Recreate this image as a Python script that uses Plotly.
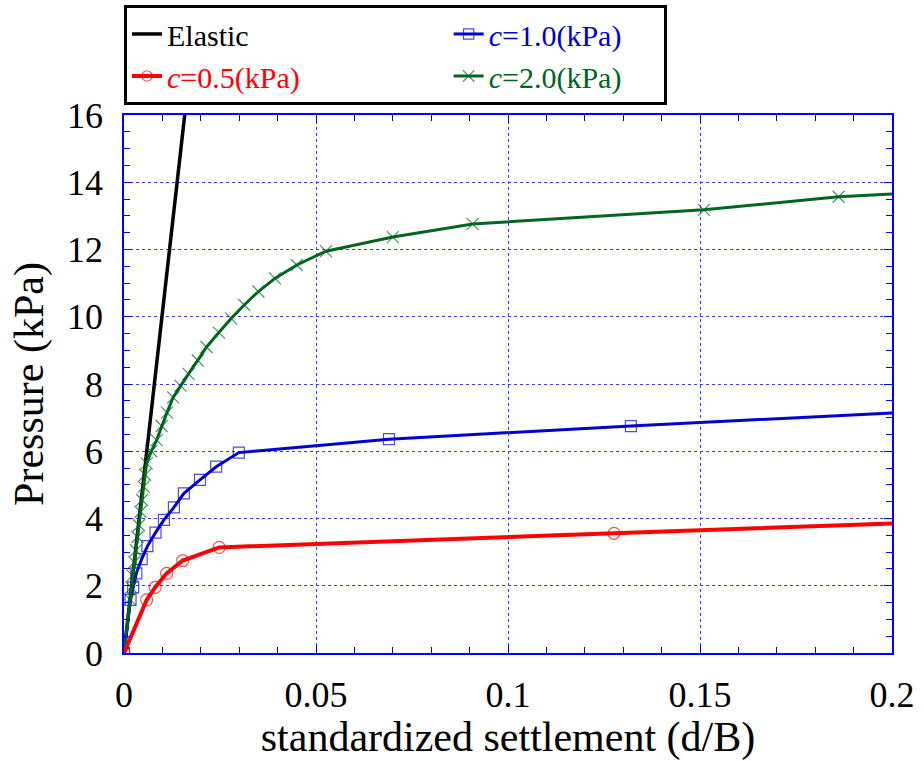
import plotly.graph_objects as go

# ---- data ----
elastic_x = [0.0, 0.0168]
elastic_y = [0.0, 17.0]

c05_x = [0.0, 0.0059, 0.0081, 0.0111, 0.0153, 0.0248, 0.1276, 0.2]
c05_y = [0.0, 1.58, 1.95, 2.37, 2.75, 3.14, 3.56, 3.85]

c10_x = [0.0, 0.0017, 0.0024, 0.0032, 0.0046, 0.0061, 0.0082, 0.0104, 0.0130, 0.0156,
         0.0198, 0.0240, 0.0299, 0.0690, 0.1320, 0.2]
c10_y = [0.0, 1.58, 1.95, 2.37, 2.79, 3.18, 3.58, 3.96, 4.33, 4.75,
         5.15, 5.54, 5.96, 6.36, 6.75, 7.14]

c20_x = [0.0, 0.0015, 0.0019, 0.0022, 0.0027, 0.0031, 0.0035, 0.0039, 0.0043, 0.0047,
         0.0051, 0.0055, 0.0059, 0.0071, 0.0085, 0.0098, 0.0112, 0.0128, 0.0147, 0.0168,
         0.0192, 0.0215, 0.0247, 0.0279, 0.0313, 0.0350, 0.0393, 0.0450, 0.0526, 0.0700,
         0.0908, 0.1510, 0.1861, 0.2]
c20_y = [0.0, 1.6, 1.95, 2.3, 2.7, 3.05, 3.45, 3.8, 4.2, 4.55,
         4.95, 5.3, 5.64, 6.0, 6.33, 6.75, 7.15, 7.6, 7.95, 8.3,
         8.7, 9.1, 9.53, 9.95, 10.35, 10.75, 11.14, 11.54, 11.95, 12.37,
         12.76, 13.18, 13.57, 13.65]

x_ticks = [0, 0.05, 0.1, 0.15, 0.2]
x_tick_text = ["0", "0.05", "0.1", "0.15", "0.2"]
y_ticks = [0, 2, 4, 6, 8, 10, 12, 14, 16]

RED = "#ff0000"
BLUE = "#0000d0"
GREEN = "#00661e"
GRID = "#3a3aff"
FONT = "Liberation Serif"
NB = "\u00a0"


def sizes(n, s):
    # marker on every measured point, none on the end-of-line point
    return [s] * (n - 1) + [0]


def label(text, color, pad):
    return "<span style='color:%s'>%s</span>%s" % (color, text, NB * pad)


fig = go.Figure()

fig.add_trace(go.Scatter(
    x=elastic_x, y=elastic_y, mode="lines", name=label("Elastic", "black", 26),
    line=dict(color="black", width=3.5), legendrank=1))

fig.add_trace(go.Scatter(
    x=c10_x, y=c10_y, mode="lines+markers",
    name=label("<i>c</i>=1.0(kPa)", BLUE, 5),
    line=dict(color=BLUE, width=3),
    marker=dict(symbol="square-open", size=sizes(len(c10_x), 11),
                color=BLUE, line=dict(width=1.2, color=BLUE)),
    legendrank=2))

fig.add_trace(go.Scatter(
    x=c20_x, y=c20_y, mode="lines+markers",
    name=label("<i>c</i>=2.0(kPa)", GREEN, 5),
    line=dict(color=GREEN, width=3),
    marker=dict(symbol="x-thin-open", size=sizes(len(c20_x), 12),
                color=GREEN, line=dict(width=1.2, color=GREEN)),
    legendrank=4))

fig.add_trace(go.Scatter(
    x=c05_x, y=c05_y, mode="lines+markers",
    name=label("<i>c</i>=0.5(kPa)", RED, 18),
    line=dict(color=RED, width=4),
    marker=dict(symbol="circle-open", size=sizes(len(c05_x), 12),
                color=RED, line=dict(width=1.2, color=RED)),
    legendrank=3))

axis_common = dict(
    showline=True, linecolor="#0000ff", linewidth=1.5, mirror="ticks",
    ticks="inside", ticklen=8, tickcolor="#0000ff", tickwidth=1.2,
    showgrid=True, gridcolor=GRID, gridwidth=1, griddash="3px,3px",
    zeroline=False,
    tickfont=dict(family=FONT, size=36, color="black"),
)

fig.update_xaxes(
    **axis_common,
    range=[0, 0.2], tickvals=x_ticks, ticktext=x_tick_text,
    minor=dict(dtick=0.01, ticks="inside", ticklen=6, tickcolor="#0000ff", tickwidth=1, showgrid=False),
    ticklabelstandoff=9,
    title=dict(text="standardized settlement (d/B)", font=dict(family=FONT, size=42, color="black"),
               standoff=2),
)
fig.update_yaxes(
    **axis_common,
    range=[0, 16], tickvals=y_ticks,
    minor=dict(dtick=0.5, ticks="inside", ticklen=6, tickcolor="#0000ff", tickwidth=1, showgrid=False),
    ticklabelstandoff=12,
    title=dict(text="Pressure (kPa)", font=dict(family=FONT, size=42, color="black"), standoff=10),
)

fig.update_layout(
    width=924, height=761,
    margin=dict(l=124, r=32, t=115, b=108, autoexpand=False),
    paper_bgcolor="white", plot_bgcolor="white",
    showlegend=True,
    legend=dict(
        orientation="h", x=0, xanchor="left", y=1.2045, yanchor="top",
        bordercolor="black", borderwidth=3, bgcolor="white",
        font=dict(family=FONT, size=30, color="black"),
        traceorder="normal",
    ),
)

fig.write_html("out.html")
